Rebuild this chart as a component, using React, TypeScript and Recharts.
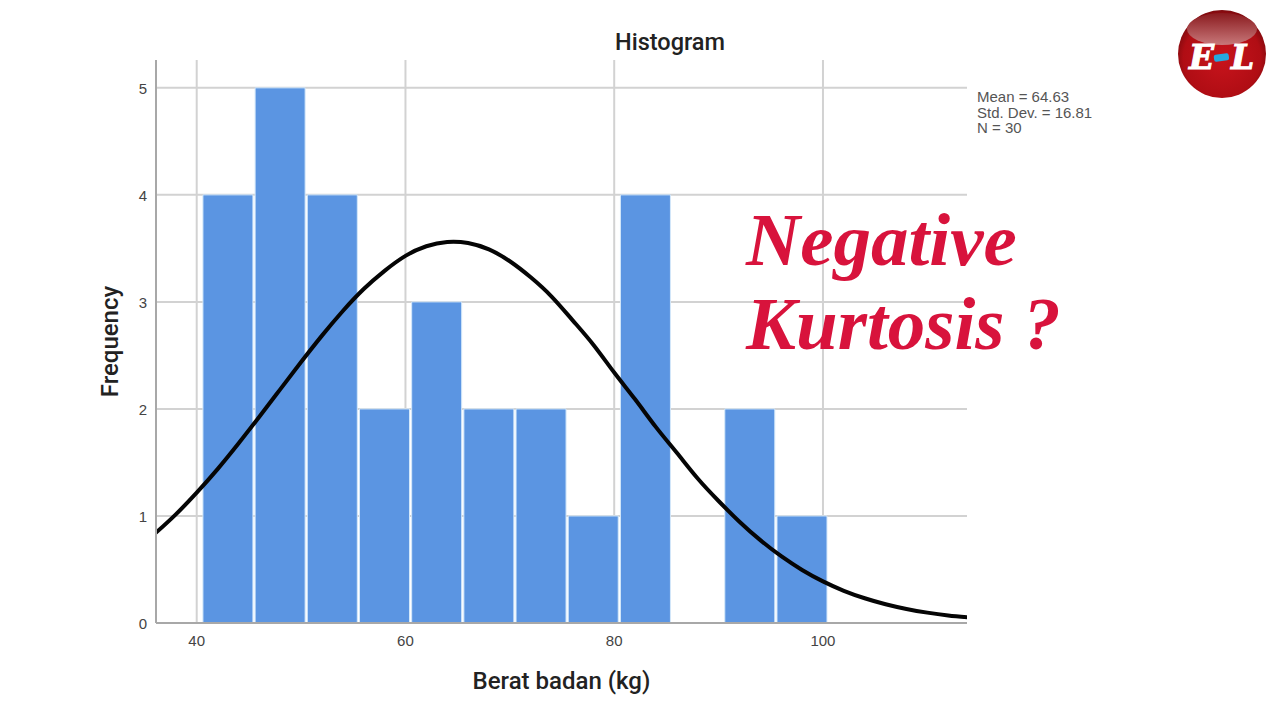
import React from "react";
import { ComposedChart, Bar, Line, XAxis, YAxis, CartesianGrid } from "recharts";

const binCenters = [43, 48, 53, 58, 63, 68, 73, 78, 83, 88, 93, 98];
const frequencies = [4, 5, 4, 2, 3, 2, 2, 1, 4, 0, 2, 1];
const curveX = [36, 38, 40, 42, 44, 46, 48, 50, 52, 54, 56, 58, 60, 62, 64, 66, 68, 70, 72, 74, 76, 78, 80, 82, 84, 86, 88, 90, 92, 94, 96, 98, 100, 102, 104, 106, 108, 110, 112, 114];
const curveY = [0.835, 1.015, 1.218, 1.438, 1.677, 1.927, 2.183, 2.438, 2.685, 2.915, 3.12, 3.29, 3.43, 3.52, 3.56, 3.55, 3.49, 3.38, 3.23, 3.05, 2.83, 2.6, 2.34, 2.09, 1.83, 1.59, 1.35, 1.14, 0.946, 0.774, 0.624, 0.496, 0.389, 0.301, 0.231, 0.175, 0.131, 0.097, 0.071, 0.052];
const xTicks = [40, 60, 80, 100];
const yTicks = [0, 1, 2, 3, 4, 5];
const statLines = ["Mean = 64.63", "Std. Dev. = 16.81", "N = 30"];

const barRows = binCenters.map((x, i) => ({ x, freq: frequencies[i] }));
const curveRows = curveX.map((x, i) => ({ x, curve: curveY[i] }));

const sans = "'Liberation Sans', Arial, sans-serif";
const labelFont = "Roboto, 'Liberation Sans', sans-serif";
const xDomain: [number, number] = [36.1, 113.8];

function Logo() {
  const letter = { fontFamily: "'DejaVu Serif', serif", fontWeight: "bold", fontStyle: "italic", fontSize: 33, fill: "#fff", stroke: "#fff", strokeWidth: 1 } as const;
  return (
    <svg width={92} height={92} style={{ position: "absolute", left: 1176, top: 8 }}>
      <defs>
        <radialGradient id="ball" cx="50%" cy="55%" r="55%">
          <stop offset="0%" stopColor="#c8141c" />
          <stop offset="80%" stopColor="#b00d14" />
          <stop offset="100%" stopColor="#7d0a0e" />
        </radialGradient>
        <linearGradient id="shine" x1="0" y1="0" x2="0" y2="1">
          <stop offset="0%" stopColor="#8a1a1e" />
          <stop offset="100%" stopColor="#c8787a" />
        </linearGradient>
      </defs>
      <circle cx={46} cy={46} r={44} fill="url(#ball)" />
      <ellipse cx={46} cy={21} rx={35} ry={16} fill="url(#shine)" />
      <text x={13} y={61} {...letter}>E</text>
      <rect x={38} y={46} width={15} height={7} rx={2} fill="#25a9e0" transform="rotate(-8 45 50)" />
      <text x={55} y={61} {...letter}>L</text>
    </svg>
  );
}

export default function App() {
  return (
    <div style={{ position: "absolute", left: 0, top: 0, width: 1280, height: 720, background: "#fff", overflow: "hidden" }}>
      <ComposedChart
        width={1280}
        height={720}
        data={barRows}
        margin={{ top: 60, right: 313, bottom: 0, left: 0 }}
      >
        <CartesianGrid stroke="#d2d2d2" strokeWidth={2} verticalValues={xTicks} horizontalValues={yTicks} />
        <XAxis
          type="number"
          dataKey="x"
          domain={xDomain}
          allowDataOverflow
          ticks={xTicks}
          tickLine={false}
          axisLine={{ stroke: "#a8a8a8", strokeWidth: 2 }}
          tick={{ fill: "#444", fontSize: 15, fontFamily: sans }}
          tickMargin={6}
          height={97}
          label={{ value: "Berat badan (kg)", position: "insideTop", offset: 49, fill: "#222", fontSize: 24, fontWeight: 500, fontFamily: labelFont }}
        />
        <XAxis xAxisId="bins" type="number" dataKey="x" domain={xDomain} allowDataOverflow hide />
        <YAxis
          type="number"
          domain={[0, 5.26]}
          allowDataOverflow
          ticks={yTicks}
          tickLine={false}
          axisLine={{ stroke: "#a8a8a8", strokeWidth: 2 }}
          tick={{ fill: "#444", fontSize: 15, fontFamily: sans, dy: 1 }}
          tickMargin={3}
          width={156}
          label={{ value: "Frequency", angle: -90, position: "insideLeft", offset: 109, textAnchor: "middle", fill: "#222", fontSize: 24, fontWeight: 500, fontFamily: labelFont }}
        />
        <Bar xAxisId="bins" dataKey="freq" fill="#5b95e2" stroke="#d4e8fa" strokeWidth={1} barSize={50} isAnimationActive={false} />
        <Line data={curveRows} dataKey="curve" type="natural" stroke="#050505" strokeWidth={4} dot={false} isAnimationActive={false} />
      </ComposedChart>

      <div style={{ position: "absolute", left: 560, width: 220, top: 29, textAlign: "center", fontFamily: labelFont, fontWeight: 500, fontSize: 23.5, color: "#222", lineHeight: "26px" }}>Histogram</div>

      <div style={{ position: "absolute", left: 977, top: 89, fontFamily: sans, fontSize: 15, lineHeight: "15.5px", color: "#555" }}>
        {statLines.map((s) => <div key={s}>{s}</div>)}
      </div>

      <div style={{ position: "absolute", left: 746, top: 198, fontFamily: "'Liberation Serif', serif", fontWeight: "bold", fontStyle: "italic", fontSize: 75, lineHeight: "84px", color: "#d8133c", whiteSpace: "pre" }}>
        <div>Negative</div>
        <div>Kurtosis ?</div>
      </div>

      <Logo />
    </div>
  );
}
